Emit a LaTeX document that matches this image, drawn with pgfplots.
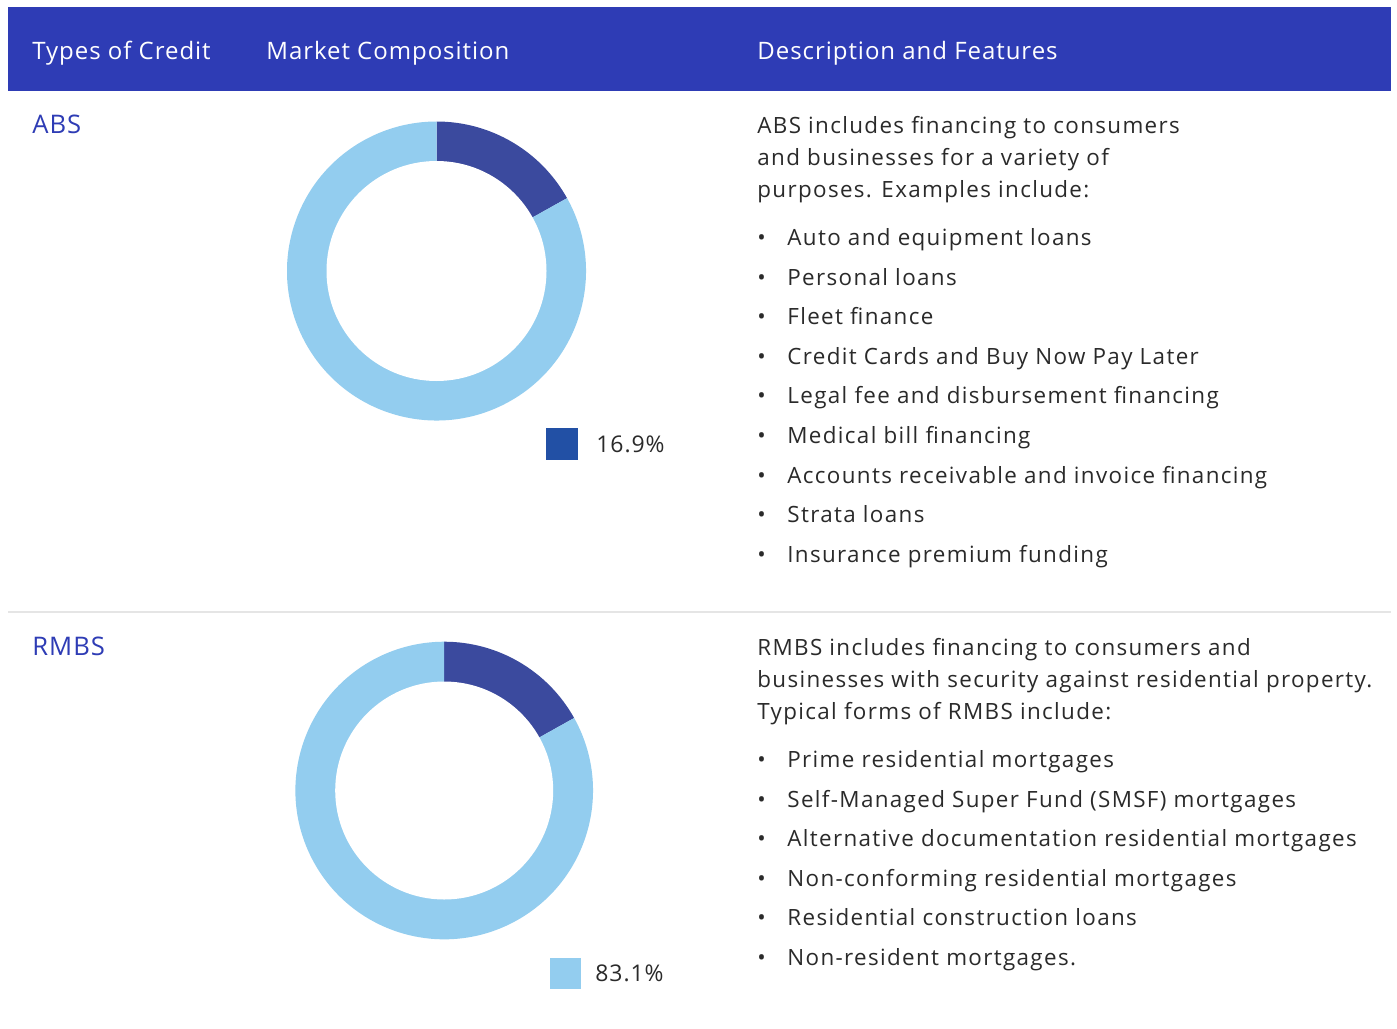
\documentclass[border=0pt]{standalone}
\usepackage{pgfplots}
\pgfplotsset{compat=1.18}
\usepackage{pgfplotstable}
\usepackage{fontspec}
\setmainfont{Open Sans}[LetterSpace=6]
\newfontfamily\headfont{Open Sans}[LetterSpace=4]

\definecolor{band}{HTML}{2E3CB5}
\definecolor{segdark}{HTML}{3B4A9E}
\definecolor{seglight}{HTML}{93CDEF}
\definecolor{keydark}{HTML}{2250A5}
\definecolor{txt}{HTML}{2A2A2A}
\definecolor{rule}{HTML}{E5E5E5}

% market composition, percent
\pgfplotstableread{
segment value
dark    16.9
light   83.1
}\abstable
\pgfplotstableread{
segment value
dark    16.9
light   83.1
}\rmbstable

\newcommand{\bodyfont}{\fontsize{11.2pt}{13pt}\selectfont}

% donut drawn inside its own axis; 1 px = 0.5 pt, y runs downwards in px
\newcommand{\donut}[5]{% table, x px, y px, outer r, inner r
  \pgfplotstablegetelem{0}{value}\of#1\pgfmathsetmacro\angA{90-3.6*\pgfplotsretval}%
  \pgfplotstablegetelem{1}{value}\of#1\pgfmathsetmacro\angB{\angA-3.6*\pgfplotsretval}%
  \begin{axis}[at={(#2*0.5pt,-#3*0.5pt)}, anchor=center, scale only axis,
      width=#4*2, height=#4*2, xmin=-1, xmax=1, ymin=-1, ymax=1, hide axis]
    \fill[segdark] (axis cs:0,0) -- ++(90:#4) arc[start angle=90, end angle=\angA, radius=#4] -- cycle;
    \fill[seglight] (axis cs:0,0) -- ++(\angA:#4) arc[start angle=\angA, end angle=\angB, radius=#4] -- cycle;
    \fill[white] (axis cs:0,0) circle[radius=#5];
  \end{axis}}

\begin{document}
\begin{tikzpicture}[x=0.5pt, y=-0.5pt]
\path[fill=white] (0,0) rectangle (1397,1028);
% header band
\fill[band] (8,7) rectangle (1391,91);
\begin{scope}[every node/.style={anchor=base west, inner sep=0pt, text=white, font=\headfont\fontsize{12pt}{14pt}\selectfont}]
  \node at (32,59) {Types of Credit};
  \node at (266,59) {Market Composition};
  \node at (757,59) {Description and Features};
\end{scope}
\draw[rule, line width=0.75pt] (8,612) -- (1391,612);

% row labels
\begin{scope}[every node/.style={anchor=base west, inner sep=0pt, text=band, font=\headfont\fontsize{12.8pt}{14pt}\selectfont}]
  \node at (32,133) {ABS};
  \node at (32,655) {RMBS};
\end{scope}

% donuts
\donut{\abstable}{436.5}{271}{74.75pt}{55pt}
\donut{\rmbstable}{444.2}{790.5}{74.4pt}{54.5pt}

% keys
\fill[keydark] (546,428) rectangle (578,460);
\node[anchor=base west, inner sep=0pt, text=txt, font=\headfont\fontsize{11.5pt}{14pt}\selectfont] at (596,452.5) {16.9\%};
\fill[seglight] (550,958) rectangle (581,989);
\node[anchor=base west, inner sep=0pt, text=txt, font=\headfont\fontsize{11.5pt}{14pt}\selectfont] at (595,981) {83.1\%};

% descriptions
\begin{scope}[every node/.style={anchor=base west, inner sep=0pt, text=txt, font=\bodyfont}]
  \node at (757,133) {ABS includes financing to consumers};
  \node at (757,165) {and businesses for a variety of};
  \node at (757,197) {purposes. Examples include:};
  \foreach \y/\t in {245/Auto and equipment loans, 285/Personal loans, 324/Fleet finance,
      364/Credit Cards and Buy Now Pay Later, 403/Legal fee and disbursement financing,
      443/Medical bill financing, 483/Accounts receivable and invoice financing,
      522/Strata loans, 562/Insurance premium funding}{
    \node at (757,\y) {\textbullet};
    \node at (787,\y) {\t};
  }
  \node at (757,655) {RMBS includes financing to consumers and};
  \node at (757,687) {businesses with security against residential property.};
  \node at (757,719) {Typical forms of RMBS include:};
  \foreach \y/\t in {767/Prime residential mortgages, 807/Self-Managed Super Fund (SMSF) mortgages,
      846/Alternative documentation residential mortgages, 886/Non-conforming residential mortgages,
      925/Residential construction loans, 965/Non-resident mortgages.}{
    \node at (757,\y) {\textbullet};
    \node at (787,\y) {\t};
  }
\end{scope}
\end{tikzpicture}
\end{document}
